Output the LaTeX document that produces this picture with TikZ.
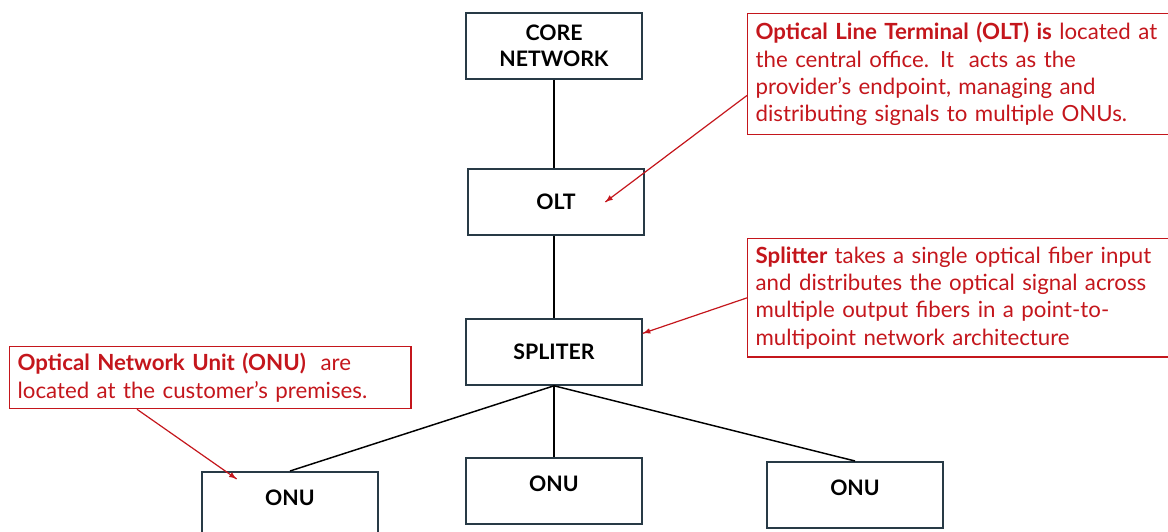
\documentclass[tikz,border=0pt]{standalone}
\usepackage{fontspec}
\setmainfont{Lato}
\usetikzlibrary{positioning, calc, arrows.meta, arrows, decorations.markings}
\definecolor{notered}{RGB}{196,22,28}
\definecolor{boxline}{RGB}{40,58,70}
\tikzstyle{Box} = [
draw=boxline, line width=1.2pt,
minimum width=132pt, minimum height=49.5pt,
align=center,
font=\fontsize{16}{19.5}\selectfont\bfseries]
\tikzstyle{Note} = [
draw=notered, line width=1pt, text=notered,
align=left, inner xsep=6pt, inner ysep=5pt, anchor=north west,
font=\fontsize{16.7}{20.5}\selectfont]
\tikzstyle{Pointer} = [
notered, line width=0.9pt,
decoration={
markings,
mark=at position 0.9999 with {
\arrow[notered]{latex}}},
preaction = {decorate}]

\begin{document}
\begin{tikzpicture}[x=0.75pt, y=-0.75pt]
    \useasboundingbox (0,0) rectangle (1168,532);

    \node [Box] (core) at (554,46) {CORE\\NETWORK};
    \node [Box] (olt) at (556,202) {OLT};
    \node [Box] (spliter) at (554,352) {SPLITER};
    \node [Box, anchor=north, text depth=10pt] (onu1) at (290,471) {ONU};
    \node [Box, anchor=north, text depth=10pt] (onu2) at (554,457) {ONU};
    \node [Box, anchor=north, text depth=10pt] (onu3) at (855,461) {ONU};

    \node [Note, text width=316pt, inner ysep=6.5pt] (oltnote) at (747,13)
        {\textbf{Optical Line Terminal (OLT) is} located at\\
         the central office. It\ \ acts as the\\
         provider's endpoint, managing and\\
         distributing signals to multiple ONUs.};
    \node [Note, text width=316pt, inner ysep=6pt] (splnote) at (747,238)
        {\textbf{Splitter} takes a single optical fiber input\\
         and distributes the optical signal across\\
         multiple output fibers in a point-to-\\
         multipoint network architecture};
    \node [Note, text width=289pt] (onunote) at (9,346)
        {\textbf{Optical Network Unit (ONU)}\ \ are\\
         located at the customer's premises.};

    \draw[line width=1.1pt] (core.south) -- (core.south |- olt.north);
    \draw[line width=1.1pt] (core.south |- olt.south) -- (core.south |- spliter.north);
    \draw[line width=1.1pt] (spliter.south) -- (onu1.north);
    \draw[line width=1.1pt] (spliter.south) -- (onu2.north);
    \draw[line width=1.1pt] (spliter.south) -- (onu3.north);

    \draw[Pointer] ([yshift=-16pt]oltnote.west) -- ([xshift=37pt]olt.center);
    \draw[Pointer] (splnote.west) -- ([yshift=14pt]spliter.east);
    \draw[Pointer] ([xshift=-55pt]onunote.south) -- ([xshift=-40pt,yshift=-6pt]onu1.north);
\end{tikzpicture}
\end{document}
